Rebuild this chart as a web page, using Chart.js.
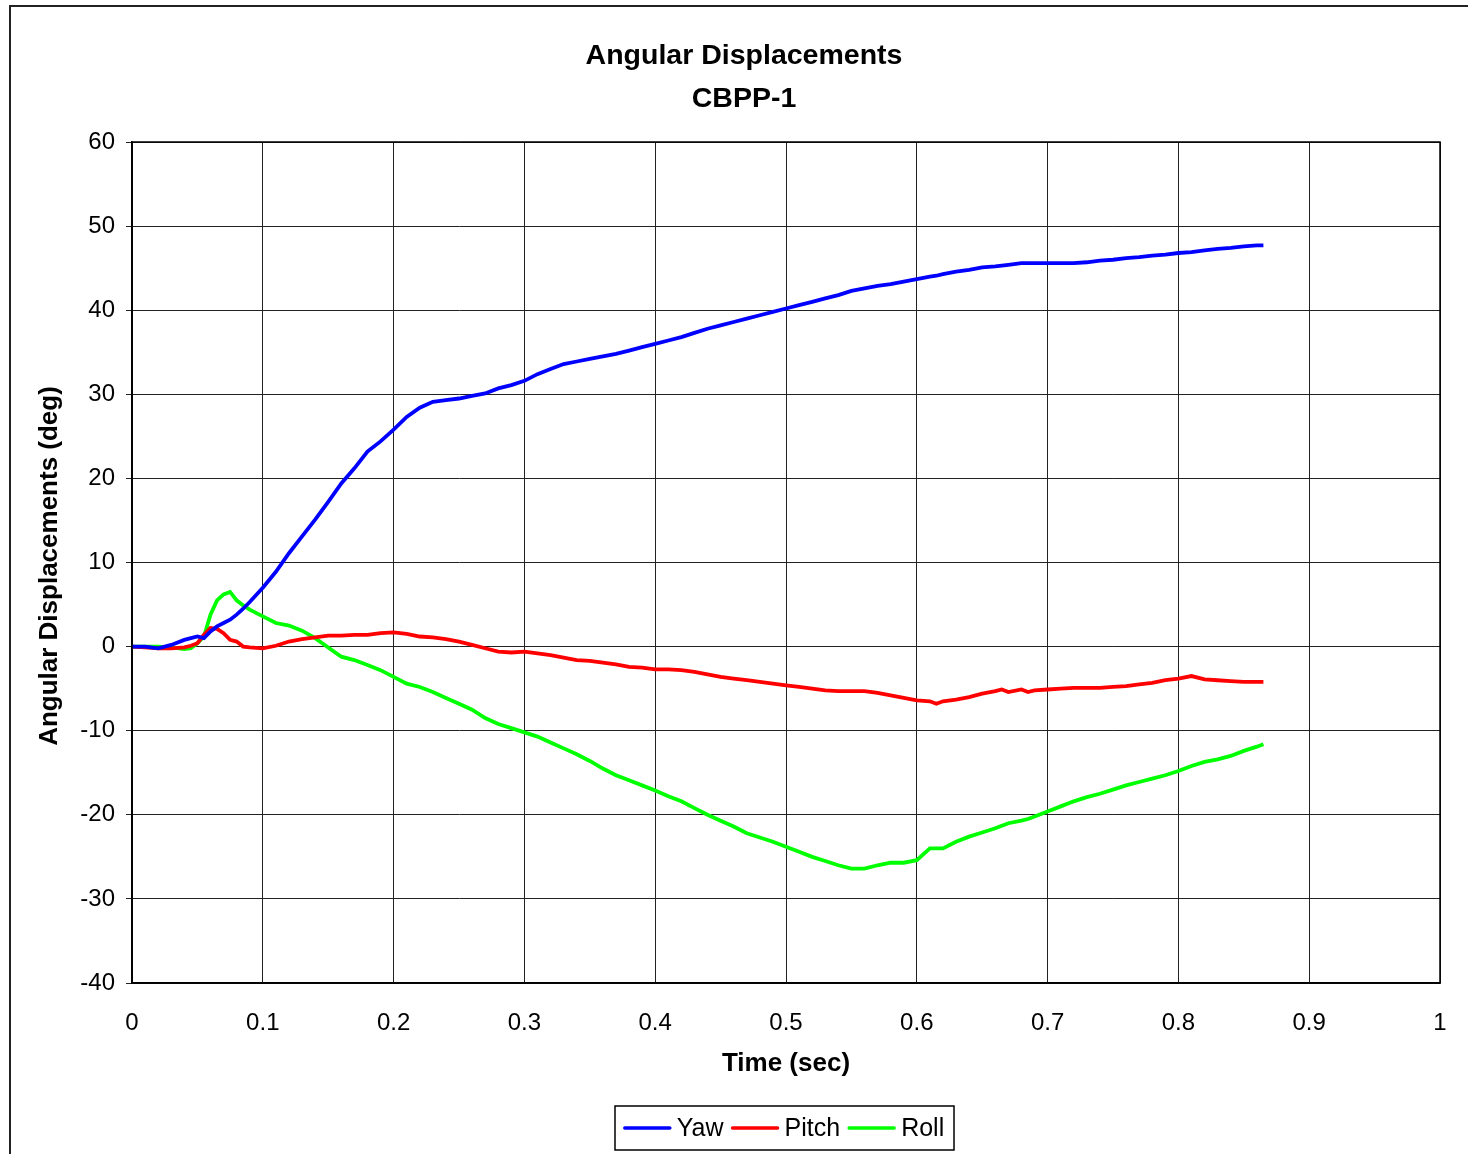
<!DOCTYPE html>
<html>
<head>
<meta charset="utf-8">
<title>Angular Displacements CBPP-1</title>
<script src="https://cdn.jsdelivr.net/npm/chart.js@4.4.1/dist/chart.umd.min.js"></script>
<style>
  html, body { margin: 0; padding: 0; background: #fff; }
  canvas { display: block; }
</style>
</head>
<body>
<canvas id="angChart" width="1468" height="1154"></canvas>
<script>
// time (sec)
const times = [0, 0.01, 0.02, 0.03, 0.04, 0.045, 0.05, 0.055, 0.06, 0.065, 0.07, 0.075, 0.08, 0.085, 0.09,
    0.10, 0.11, 0.12, 0.13, 0.14, 0.15, 0.16, 0.17, 0.18, 0.19,
    0.20, 0.21, 0.22, 0.23, 0.24, 0.25, 0.26, 0.27, 0.28, 0.29,
    0.30, 0.31, 0.32, 0.33, 0.34, 0.35, 0.36, 0.37, 0.38, 0.39,
    0.40, 0.41, 0.42, 0.43, 0.44, 0.45, 0.46, 0.47, 0.48, 0.49,
    0.50, 0.51, 0.52, 0.53, 0.54, 0.55, 0.56, 0.57, 0.58, 0.59,
    0.60, 0.61, 0.615, 0.62, 0.63, 0.64, 0.65, 0.66, 0.665, 0.67, 0.68, 0.685,
    0.69, 0.70, 0.71, 0.72, 0.73, 0.74, 0.75, 0.76, 0.77, 0.78, 0.79,
    0.80, 0.81, 0.82, 0.83, 0.84, 0.85, 0.86, 0.865];

const yaw = [0, 0, -0.2, 0.2, 0.8, 1.0, 1.2, 1.0, 1.8, 2.4, 2.8, 3.2, 3.8, 4.5, 5.3,
    7.0, 8.9, 11.1, 13.1, 15.1, 17.2, 19.4, 21.2, 23.2, 24.4,
    25.8, 27.3, 28.4, 29.1, 29.3, 29.5, 29.8, 30.1, 30.7, 31.1,
    31.6, 32.4, 33.0, 33.6, 33.9, 34.2, 34.5, 34.8, 35.2, 35.6,
    36.0, 36.4, 36.8, 37.3, 37.8, 38.2, 38.6, 39.0, 39.4, 39.8,
    40.2, 40.6, 41.0, 41.4, 41.8, 42.3, 42.6, 42.9, 43.1, 43.4,
    43.7, 44.0, 44.1, 44.3, 44.6, 44.8, 45.1, 45.2, 45.3, 45.4, 45.6, 45.6,
    45.6, 45.6, 45.6, 45.6, 45.7, 45.9, 46.0, 46.2, 46.3, 46.5, 46.6,
    46.8, 46.9, 47.1, 47.3, 47.4, 47.6, 47.7, 47.7];

const pitch = [0, -0.1, -0.2, -0.2, -0.1, 0.1, 0.4, 1.4, 2.2, 2.1, 1.6, 0.8, 0.6, 0.0, -0.1,
    -0.2, 0.1, 0.6, 0.9, 1.1, 1.3, 1.3, 1.4, 1.4, 1.6,
    1.7, 1.5, 1.2, 1.1, 0.9, 0.6, 0.2, -0.2, -0.6, -0.7,
    -0.6, -0.8, -1.0, -1.3, -1.6, -1.7, -1.9, -2.1, -2.4, -2.5,
    -2.7, -2.7, -2.8, -3.0, -3.3, -3.6, -3.8, -4.0, -4.2, -4.4,
    -4.6, -4.8, -5.0, -5.2, -5.3, -5.3, -5.3, -5.5, -5.8, -6.1,
    -6.4, -6.5, -6.8, -6.5, -6.3, -6.0, -5.6, -5.3, -5.1, -5.4, -5.1, -5.4,
    -5.2, -5.1, -5.0, -4.9, -4.9, -4.9, -4.8, -4.7, -4.5, -4.3, -4.0,
    -3.8, -3.5, -3.9, -4.0, -4.1, -4.2, -4.2, -4.2];

const roll = [0, 0, 0, -0.1, -0.3, -0.2, 0.4, 1.2, 3.8, 5.5, 6.2, 6.5, 5.5, 4.9, 4.4,
    3.6, 2.8, 2.5, 1.9, 1.0, -0.1, -1.2, -1.6, -2.2, -2.8,
    -3.6, -4.4, -4.8, -5.4, -6.1, -6.8, -7.5, -8.5, -9.2, -9.7,
    -10.2, -10.7, -11.4, -12.1, -12.8, -13.6, -14.5, -15.3, -15.9, -16.5,
    -17.1, -17.8, -18.4, -19.2, -20.0, -20.7, -21.4, -22.2, -22.7, -23.2,
    -23.8, -24.4, -25.0, -25.5, -26.0, -26.4, -26.4, -26.0, -25.7, -25.7,
    -25.4, -24.0, -24.0, -24.0, -23.2, -22.6, -22.1, -21.6, -21.3, -21.0, -20.7, -20.5,
    -20.2, -19.6, -19.0, -18.4, -17.9, -17.5, -17.0, -16.5, -16.1, -15.7, -15.3,
    -14.8, -14.2, -13.7, -13.4, -13.0, -12.4, -11.9, -11.6];

const seriesNames = ['Yaw', 'Pitch', 'Roll'];
const titleLines = ['Angular Displacements', 'CBPP-1'];
const xTitle = 'Time (sec)';
const yTitle = 'Angular Displacements (deg)';

const FONT = '"Liberation Sans", Arial, Helvetica, sans-serif';

function toPoints(vals) {
    return times.map((t, i) => ({ x: t, y: vals[i] }));
}

// titles, axis titles, frame and legend drawn by hand
const decorPlugin = {
    id: 'decor',
    afterDraw(chart) {
        const ctx = chart.ctx;
        const area = chart.chartArea;
        ctx.save();

        // outer frame (only left and top edges visible)
        ctx.strokeStyle = '#222';
        ctx.lineWidth = 2;
        ctx.beginPath();
        ctx.moveTo(10, 1154);
        ctx.lineTo(10, 6);
        ctx.lineTo(1468, 6);
        ctx.stroke();

        ctx.fillStyle = '#000';
        ctx.textAlign = 'center';
        ctx.textBaseline = 'middle';
        ctx.font = 'bold 28.5px ' + FONT;
        ctx.fillText(titleLines[0], 744, 56);
        ctx.fillText(titleLines[1], 744, 99);

        ctx.font = 'bold 26px ' + FONT;
        ctx.fillText(xTitle, (area.left + area.right) / 2, 1064);

        ctx.save();
        ctx.translate(50, 566);
        ctx.rotate(-Math.PI / 2);
        ctx.fillText(yTitle, 0, 0);
        ctx.restore();

        // legend
        ctx.font = '25px ' + FONT;
        ctx.textAlign = 'left';
        const lineLen = 45, gapLT = 7, gapItem = 9;
        let total = 0;
        const widths = seriesNames.map(n => ctx.measureText(n).width);
        widths.forEach(w => { total += lineLen + gapLT + w; });
        total += gapItem * (seriesNames.length - 1);
        const boxL = 615, boxR = 954, boxT = 1106, boxB = 1150;
        const cy = (boxT + boxB) / 2;
        let x = (boxL + boxR) / 2 - total / 2;
        ctx.strokeStyle = '#000';
        ctx.lineWidth = 1.5;
        ctx.strokeRect(boxL, boxT, boxR - boxL, boxB - boxT);
        chart.data.datasets.forEach((ds, i) => {
            ctx.strokeStyle = ds.borderColor;
            ctx.lineWidth = 3.5;
            ctx.lineCap = 'round';
            ctx.beginPath();
            ctx.moveTo(x, cy);
            ctx.lineTo(x + lineLen, cy);
            ctx.stroke();
            x += lineLen + gapLT;
            ctx.fillStyle = '#000';
            ctx.fillText(seriesNames[i], x, cy + 1);
            x += widths[i] + gapItem;
        });

        ctx.restore();
    }
};

// frame round the plot area
const plotFrame = {
    id: 'plotFrame',
    afterDatasetsDraw(chart) {
        const a = chart.chartArea;
        const c = chart.ctx;
        c.save();
        c.strokeStyle = '#000';
        c.lineWidth = 1.5;
        c.strokeRect(a.left, a.top, a.right - a.left, a.bottom - a.top);
        c.restore();
    }
};

const ctx = document.getElementById('angChart').getContext('2d');
const angChart = new Chart(ctx, {
    type: 'line',
    data: {
        datasets: [
            {
                label: seriesNames[0],
                data: toPoints(yaw),
                borderColor: '#0000ff',
                borderWidth: 3.8,
                pointRadius: 0,
                tension: 0
            },
            {
                label: seriesNames[1],
                data: toPoints(pitch),
                borderColor: '#ff0000',
                borderWidth: 3.8,
                pointRadius: 0,
                tension: 0
            },
            {
                label: seriesNames[2],
                data: toPoints(roll),
                borderColor: '#00ff00',
                borderWidth: 3.8,
                pointRadius: 0,
                tension: 0
            }
        ]
    },
    options: {
        responsive: false,
        animation: false,
        devicePixelRatio: 1,
        layout: {
            padding: { top: 142, right: 28, bottom: 0, left: 0 }
        },
        plugins: {
            legend: { display: false },
            title: { display: false },
            tooltip: { enabled: false }
        },
        scales: {
            x: {
                type: 'linear',
                min: 0,
                max: 1,
                afterFit: (scale) => {
                    scale.height = 171;
                    scale.paddingLeft = 0;
                    scale.paddingRight = 0;
                },
                grid: {
                    color: '#222',
                    lineWidth: 1,
                    drawTicks: false
                },
                border: { color: '#000', width: 1.5 },
                ticks: {
                    stepSize: 0.1,
                    color: '#000',
                    padding: 26,
                    maxRotation: 0,
                    font: { family: FONT, size: 24 },
                    callback: (v) => String(parseFloat(v.toFixed(1)))
                }
            },
            y: {
                min: -40,
                max: 60,
                afterFit: (scale) => { scale.width = 132; },
                grid: {
                    color: '#222',
                    lineWidth: 1,
                    tickLength: 6
                },
                border: { color: '#000', width: 1.5 },
                ticks: {
                    stepSize: 10,
                    color: '#000',
                    padding: 11,
                    font: { family: FONT, size: 24 }
                }
            }
        }
    },
    plugins: [decorPlugin, plotFrame]
});
</script>
</body>
</html>
